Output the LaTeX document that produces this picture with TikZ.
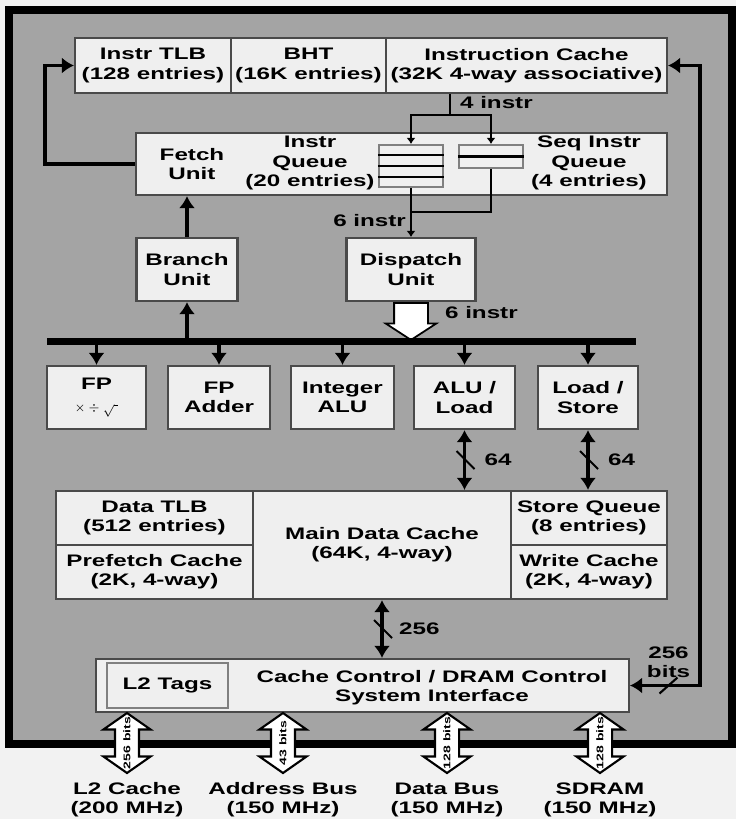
\documentclass[tikz,border=0pt]{standalone}
\usepackage{fontspec}
\setmainfont[FakeStretch=1.45]{Liberation Sans}
\usetikzlibrary{positioning,arrows.meta,shapes.arrows}
\definecolor{bggray}{HTML}{A4A4A4}
\definecolor{boxfill}{HTML}{EFEFEF}
\definecolor{boxline}{HTML}{4A4A4A}
\definecolor{pagebg}{HTML}{F2F2F2}
\newcommand{\diagfont}{\fontsize{9.5}{11}\selectfont\bfseries}
\tikzset{
  blockbox/.style={draw=boxline, line width=1.2pt, fill=boxfill, inner sep=1pt, align=center},
  unitbox/.style={blockbox, minimum width=2.02cm, minimum height=1.26cm},
  queuebox/.style={draw=boxline!70, line width=1.2pt, fill=boxfill, inner sep=0pt},
  queueline/.style={line width=1.3pt},
  buslink/.style={line width=2.2pt, -{Latex[length=2.4mm, width=3.2mm]}},
  biglink/.style={line width=2.2pt, {Latex[length=2.4mm, width=3.2mm]}-{Latex[length=2.4mm, width=3.2mm]}},
  thinlink/.style={line width=1.4pt},
  hollowarrow/.style={single arrow, draw=black, line width=1pt, fill=white, rotate=-90,
    minimum height=0.74cm, inner xsep=0pt, inner ysep=0.32cm,
    single arrow head extend=0.17cm, single arrow tip angle=114},
  busarrow/.style={double arrow, draw=black, line width=1.2pt, fill=white, rotate=90,
    minimum height=1.2cm, inner xsep=0pt, inner ysep=0.22cm,
    double arrow head extend=0.23cm, double arrow tip angle=110},
  bitslabel/.style={font=\fontsize{5.5}{6}\selectfont\bfseries, rotate=90, inner sep=0pt},
  widthlabel/.style={inner sep=1pt},
  slashmark/.style={line width=1.2pt}
}

\begin{document}
\begin{tikzpicture}[x=0.02cm, y=-0.02cm, >=Latex, every node/.style={font=\diagfont}]
  \useasboundingbox (0,0) rectangle (736,819);
  \fill[pagebg] (0,0) rectangle (736,819);
  \draw[line width=4.5pt, fill=bggray] (9,10) rectangle (732,744);

  % instruction side
  \node[blockbox, minimum width=3.12cm, minimum height=1.1cm] (itlb) at (153,65.5) {Instr TLB\\(128 entries)};
  \node[blockbox, minimum width=3.1cm, minimum height=1.1cm] (bht) at (308.5,65.5) {BHT\\(16K entries)};
  \node[blockbox, minimum width=5.62cm, minimum height=1.1cm] (icache) at (526.5,65.5) {Instruction Cache\\(32K 4-way associative)};

  \node[blockbox, minimum width=10.62cm, minimum height=1.24cm] (fetch) at (401.5,164) {};
  \node[align=center] (fetchlbl) at (192,164) {Fetch\\Unit};
  \node[align=center] (iqlbl) at (310,163) {Instr\\Queue\\(20 entries)};
  \node[align=center] (sqlbl) at (589,163) {Seq Instr\\Queue\\(4 entries)};
  \node[queuebox, minimum width=1.28cm, minimum height=0.84cm] (iq) at (411,166) {};
  \node[queuebox, minimum width=1.28cm, minimum height=0.46cm] (sq) at (491,156.5) {};
  \draw[queueline] ([yshift=0.22cm]iq.west) -- ([yshift=0.22cm]iq.east);
  \draw[queueline] (iq.west) -- (iq.east);
  \draw[queueline] ([yshift=-0.22cm]iq.west) -- ([yshift=-0.22cm]iq.east);
  \draw[queueline] (sq.west) -- (sq.east);

  \node[unitbox] (branch) at (187,269.5) {Branch\\Unit};
  \node[unitbox, minimum width=2.58cm] (dispatch) at (411,269.5) {Dispatch\\Unit};

  % 4 instr fork and 6 instr merge
  \coordinate (fork) at (450,115);
  \coordinate (merge) at (411,212);
  \draw[thinlink] (fork |- icache.south) -- (fork);
  \draw[thinlink, -{Latex[length=1.2mm, width=1.8mm]}] (fork) -| (iq.north);
  \draw[thinlink, -{Latex[length=1.2mm, width=1.8mm]}] (fork) -| (sq.north);
  \node[widthlabel, anchor=west] (fourlbl) at (458,103) {4 instr};
  \draw[thinlink] (sq.south) |- (merge);
  \draw[thinlink, -{Latex[length=1.2mm, width=1.8mm]}] (iq.south) -- (iq.south |- dispatch.north);
  \node[widthlabel, anchor=east] (sixlbl) at (408,221) {6 instr};

  \coordinate (lbend) at (45,164);
  \draw[line width=2.2pt, -{Latex[length=2.4mm, width=3.2mm]}] (fetch.west) -- (lbend) |- (itlb.west);
  \draw[buslink] (branch.north) -- (branch.north |- fetch.south);

  % issue bus
  \node[hollowarrow, anchor=tail] (fanout) at (dispatch.south) {};
  \node[widthlabel, anchor=west] (sixlbl2) at (443,313) {6 instr};
  \coordinate (busw) at (47,341.5);
  \coordinate (buse) at (636,341.5);
  \draw[line width=4pt] (busw) -- (buse);

  \node[unitbox, minimum width=1.98cm] (fpm) at (96.5,397.5) {FP\\[2pt]{\fontsize{7.5}{8}\selectfont$\times\div\sqrt{\;}$}};
  \node[unitbox, minimum width=2.04cm] (fpa) at (219,397.5) {FP\\Adder};
  \node[unitbox, minimum width=2.06cm] (intalu) at (342.5,397.5) {Integer\\ALU};
  \node[unitbox] (alu) at (464.5,397.5) {ALU /\\Load};
  \node[unitbox, minimum width=2cm] (ls) at (588,397.5) {Load /\\Store};
  \foreach \u in {fpm,fpa,intalu,alu,ls}
    \draw[buslink] (\u.north |- busw) -- (\u.north);
  \draw[buslink] (branch.south |- busw) -- (branch.south);

  % data side
  \node[blockbox, minimum width=3.94cm, minimum height=1.08cm] (dtlb) at (154.5,518) {Data TLB\\(512 entries)};
  \node[blockbox, minimum width=3.94cm, minimum height=1.08cm] (pfc) at (154.5,572) {Prefetch Cache\\(2K, 4-way)};
  \node[blockbox, minimum width=5.16cm, minimum height=2.16cm] (mdc) at (382,545) {Main Data Cache\\(64K, 4-way)};
  \node[blockbox, minimum width=3.12cm, minimum height=1.08cm] (stq) at (589,518) {Store Queue\\(8 entries)};
  \node[blockbox, minimum width=3.12cm, minimum height=1.08cm] (wrc) at (589,572) {Write Cache\\(2K, 4-way)};

  \draw[biglink] (alu.south) -- coordinate[pos=0.5] (cuta) (alu.south |- mdc.north);
  \draw[slashmark] ([shift={(-8,-9)}]cuta) -- ([shift={(10,9)}]cuta);
  \node[widthlabel, anchor=west] (widtha) at ([xshift=0.36cm]cuta) {64};
  \draw[biglink] (ls.south) -- coordinate[pos=0.5] (cutb) (ls.south |- stq.north);
  \draw[slashmark] ([shift={(-8,-9)}]cutb) -- ([shift={(10,9)}]cutb);
  \node[widthlabel, anchor=west] (widthb) at ([xshift=0.36cm]cutb) {64};

  % system interface
  \node[blockbox, minimum width=10.66cm, minimum height=1.06cm] (cachectl) at (362.5,685.5) {};
  \node[draw=boxline!70, line width=1.2pt, fill=boxfill, minimum width=2.42cm, minimum height=0.9cm] (l2tags) at (167.5,685.5) {L2 Tags};
  \node[align=center] (sysif) at (432,688) {Cache Control / DRAM Control\\System Interface};

  \draw[biglink] (mdc.south) -- coordinate[pos=0.5] (cutc) (mdc.south |- cachectl.north);
  \draw[slashmark] ([shift={(-8,-9)}]cutc) -- ([shift={(10,9)}]cutc);
  \node[widthlabel, anchor=west] (widthc) at ([xshift=0.3cm]cutc) {256};

  \coordinate (rbend) at (700,685.5);
  \draw[biglink] (cachectl.east) -- coordinate[pos=0.55] (cutd) (rbend) |- (icache.east);
  \draw[slashmark] ([shift={(-9,8)}]cutd) -- ([shift={(9,-8)}]cutd);
  \node[widthlabel, align=center] (widthd) at ([shift={(0,-23)}]cutd) {256\\bits};

  % external buses
  \node[busarrow] (l2bus) at (127,743) {};
  \node[bitslabel] at (l2bus) {256 bits};
  \node[busarrow] (addrbus) at (283,743) {};
  \node[bitslabel] at (addrbus) {43 bits};
  \node[busarrow] (databus) at (447,743) {};
  \node[bitslabel] at (databus) {128 bits};
  \node[busarrow] (sdrambus) at (600,743) {};
  \node[bitslabel] at (sdrambus) {128 bits};

  \node[align=center] (l2lbl) at (127,800) {L2 Cache\\(200 MHz)};
  \node[align=center] (addrlbl) at (283,800) {Address Bus\\(150 MHz)};
  \node[align=center] (datalbl) at (447,800) {Data Bus\\(150 MHz)};
  \node[align=center] (sdramlbl) at (600,800) {SDRAM\\(150 MHz)};
\end{tikzpicture}
\end{document}
